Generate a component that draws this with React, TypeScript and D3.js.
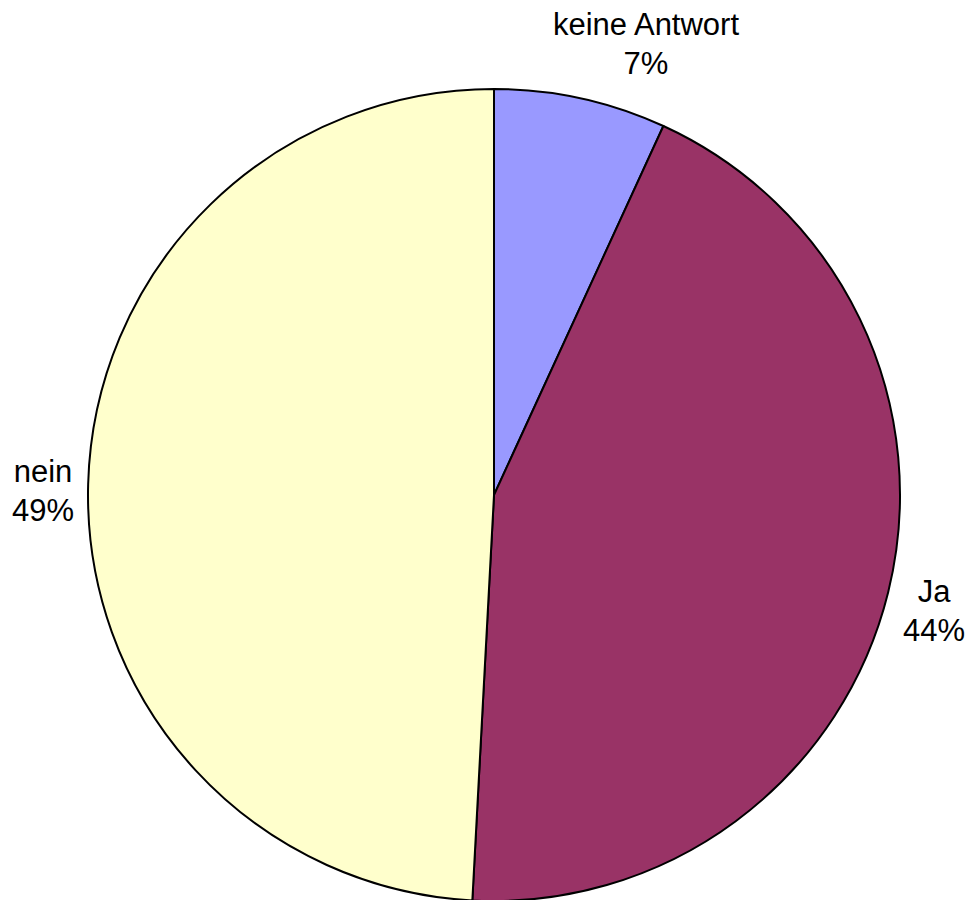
import React from "react";
import * as d3 from "d3";

const categories = ["keine Antwort", "Ja", "nein"];
const values = [6.85, 44.0, 49.15];
const percentLabels = ["7%", "44%", "49%"];
const colors = ["#9999FF", "#993366", "#FFFFCC"];

const W = 971, H = 900;
const cx = 494, cy = 495, R = 406;

const labelPos: { x: number; y: number }[] = [
  { x: 646, y: 35 },
  { x: 934, y: 602 },
  { x: 43, y: 482 },
];

export default function App() {
  const pie = d3.pie<number>().sort(null).value((d) => d);
  const arcs = pie(values);
  const arc = d3.arc<d3.PieArcDatum<number>>().innerRadius(0).outerRadius(R);
  return (
    <svg width={W} height={H} style={{ position: "absolute", left: 0, top: 0, background: "#fff" }}>
      <g transform={`translate(${cx},${cy})`}>
        {arcs.map((a, i) => (
          <path key={i} d={arc(a) || ""} fill={colors[i]} stroke="#000" strokeWidth={2} strokeLinejoin="round" />
        ))}
      </g>
      {categories.map((c, i) => (
        <text key={c} x={labelPos[i].x} y={labelPos[i].y} textAnchor="middle"
          fontFamily="Liberation Sans, Arial, sans-serif" fontSize={31} fill="#000">
          <tspan x={labelPos[i].x}>{c}</tspan>
          <tspan x={labelPos[i].x} dy={39}>{percentLabels[i]}</tspan>
        </text>
      ))}
    </svg>
  );
}
